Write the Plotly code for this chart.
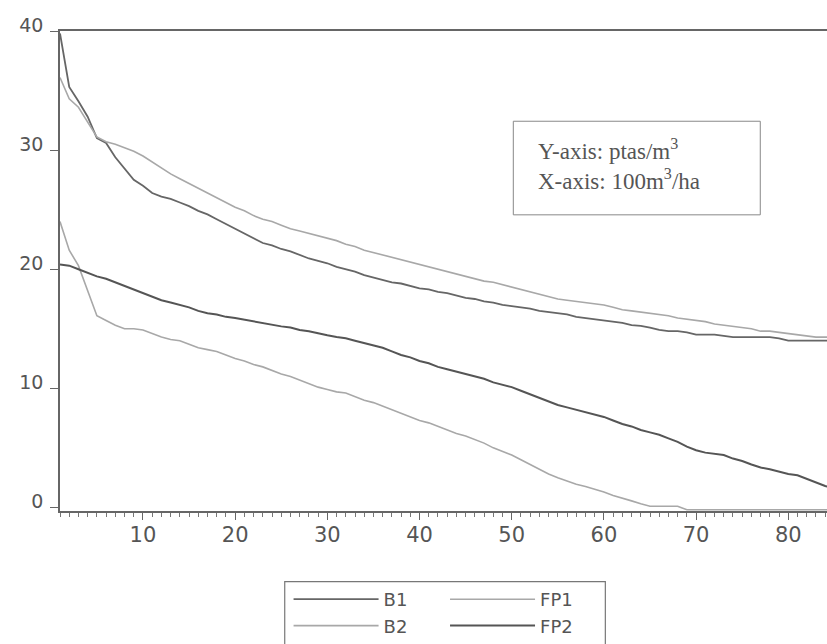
import plotly.graph_objects as go

x_vals = list(range(1, 86))

b1 = [39.8, 35.3, 34.1, 32.8, 31.0, 30.6, 29.4, 28.4, 27.5, 27.0,
      26.4, 26.1, 25.9, 25.6, 25.3, 24.9, 24.6, 24.2, 23.8, 23.4,
      23.0, 22.6, 22.2, 22.0, 21.7, 21.5, 21.2, 20.9, 20.7, 20.5,
      20.2, 20.0, 19.8, 19.5, 19.3, 19.1, 18.9, 18.8, 18.6, 18.4,
      18.3, 18.1, 18.0, 17.8, 17.6, 17.5, 17.3, 17.2, 17.0, 16.9,
      16.8, 16.7, 16.5, 16.4, 16.3, 16.2, 16.0, 15.9, 15.8, 15.75,
      15.6, 15.5, 15.3, 15.25, 15.1, 14.9, 14.8, 14.8, 14.7, 14.5,
      14.5, 14.5, 14.4, 14.3, 14.3, 14.3, 14.3, 14.3, 14.2, 14.0,
      14.0, 14.0, 14.0, 14.0, 14.0]

fp1 = [36.1, 34.3, 33.6, 32.4, 31.1, 30.7, 30.5, 30.2, 29.9, 29.5,
       29.0, 28.5, 28.0, 27.6, 27.2, 26.8, 26.4, 26.0, 25.6, 25.2,
       24.9, 24.5, 24.2, 24.0, 23.7, 23.4, 23.2, 23.0, 22.8, 22.6,
       22.4, 22.1, 21.9, 21.6, 21.4, 21.2, 21.0, 20.8, 20.6, 20.4,
       20.2, 20.0, 19.8, 19.6, 19.4, 19.2, 19.0, 18.9, 18.7, 18.5,
       18.3, 18.1, 17.9, 17.7, 17.5, 17.4, 17.3, 17.2, 17.1, 17.0,
       16.8, 16.6, 16.5, 16.4, 16.3, 16.2, 16.1, 15.9, 15.8, 15.7,
       15.6, 15.4, 15.3, 15.2, 15.1, 15.0, 14.8, 14.8, 14.7, 14.6,
       14.5, 14.4, 14.3, 14.3, 14.3]

b2 = [24.0, 21.6, 20.3, 18.2, 16.1, 15.7, 15.3, 15.0, 15.0, 14.9,
      14.6, 14.3, 14.1, 14.0, 13.7, 13.4, 13.25, 13.1, 12.8, 12.5,
      12.3, 12.0, 11.8, 11.5, 11.2, 11.0, 10.7, 10.4, 10.1, 9.9,
      9.7, 9.6, 9.3, 9.0, 8.8, 8.5, 8.2, 7.9, 7.6, 7.3,
      7.1, 6.8, 6.5, 6.2, 6.0, 5.7, 5.4, 5.0, 4.7, 4.4,
      4.0, 3.6, 3.2, 2.8, 2.5, 2.2, 1.95, 1.75, 1.55, 1.3,
      1.0, 0.8, 0.55, 0.3, 0.1, 0.1, 0.1, 0.1, -0.2, -0.2,
      -0.2, -0.2, -0.2, -0.2, -0.2, -0.2, -0.2, -0.2, -0.2, -0.2,
      -0.2, -0.2, -0.2, -0.2, -0.2]

fp2 = [20.4, 20.3, 20.0, 19.7, 19.4, 19.2, 18.9, 18.6, 18.3, 18.0,
       17.7, 17.4, 17.2, 17.0, 16.8, 16.5, 16.3, 16.2, 16.0, 15.9,
       15.75, 15.6, 15.5, 15.3, 15.2, 15.1, 14.9, 14.8, 14.6, 14.45,
       14.3, 14.2, 14.0, 13.8, 13.6, 13.4, 13.1, 12.8, 12.6, 12.3,
       12.1, 11.8, 11.6, 11.4, 11.2, 11.0, 10.8, 10.5, 10.3, 10.1,
       9.8, 9.5, 9.2, 8.9, 8.6, 8.4, 8.2, 8.0, 7.8, 7.6,
       7.3, 7.0, 6.8, 6.5, 6.3, 6.1, 5.8, 5.5, 5.1, 4.8,
       4.6, 4.5, 4.4, 4.1, 3.9, 3.6, 3.35, 3.2, 3.0, 2.8,
       2.7, 2.4, 2.1, 1.8, 1.6]

x_ticks = [10, 20, 30, 40, 50, 60, 70, 80]
y_ticks = [0, 10, 20, 30, 40]

DARK = "#555555"
LIGHT = "#a8a8a8"
TEXT = "#555555"
SANS = "DejaVu Sans, Verdana, sans-serif"

fig = go.Figure()
fig.add_trace(go.Scatter(x=x_vals, y=b1, mode="lines", name="B1", legend="legend",
                         line=dict(color="#666666", width=1.8)))
fig.add_trace(go.Scatter(x=x_vals, y=fp1, mode="lines", name="FP1", legend="legend2",
                         line=dict(color=LIGHT, width=1.6)))
fig.add_trace(go.Scatter(x=x_vals, y=b2, mode="lines", name="B2", legend="legend",
                         line=dict(color=LIGHT, width=1.6)))
fig.add_trace(go.Scatter(x=x_vals, y=fp2, mode="lines", name="FP2", legend="legend2",
                         line=dict(color=DARK, width=2)))

leg_common = dict(orientation="v", yanchor="top", xanchor="left", y=-0.147,
                  bgcolor="rgba(0,0,0,0)", borderwidth=0, itemwidth=85,
                  font=dict(family=SANS, size=18, color=TEXT), traceorder="normal",
                  tracegroupgap=0)

fig.update_layout(
    width=827, height=644,
    margin=dict(l=60, r=0, t=31, b=130),
    paper_bgcolor="white", plot_bgcolor="white",
    font=dict(family=SANS, color=TEXT, size=18),
    showlegend=True,
    legend=dict(x=0.298, **leg_common),
    legend2=dict(x=0.502, **leg_common),
    xaxis=dict(range=[1, 84.2], tickvals=x_ticks, showgrid=False, zeroline=False,
               showline=True, linecolor="#666666", linewidth=1.5, mirror=True,
               ticks="outside", ticklen=7, tickcolor="#666666",
               tickfont=dict(family=SANS, size=21, color=TEXT), ticklabelstandoff=-3,
               minor=dict(dtick=1, tick0=0, ticks="outside", ticklen=4, tickcolor="#777777")),
    yaxis=dict(range=[-0.3, 40], tickvals=y_ticks, showgrid=False, zeroline=False,
               showline=True, linecolor="#666666", linewidth=1.5,
               ticks="outside", ticklen=8, tickcolor="#666666",
               tickfont=dict(family=SANS, size=19, color=TEXT), ticklabelstandoff=3,
               ticklabelshift=-6),
)

# annotation box (units)
fig.add_shape(type="rect", xref="paper", yref="paper",
              x0=0.591, x1=0.913, y0=0.617, y1=0.812,
              line=dict(color="#888888", width=1), fillcolor="white", layer="above")
fig.add_annotation(xref="paper", yref="paper", x=0.62, y=0.722,
                   xanchor="left", yanchor="middle", align="left", showarrow=False,
                   text="Y-axis: ptas/m<sup>3</sup><br>X-axis: 100m<sup>3</sup>/ha",
                   font=dict(family="Liberation Serif, Times New Roman, serif",
                             size=23, color=TEXT))

# legend frame
fig.add_shape(type="rect", xref="paper", yref="paper",
              x0=0.293, x1=0.711, y0=-0.30, y1=-0.147,
              line=dict(color="#777777", width=1.2), fillcolor="rgba(0,0,0,0)")

fig.write_html("out.html", config={"displayModeBar": False},
               post_script="document.body.style.margin='0';")
